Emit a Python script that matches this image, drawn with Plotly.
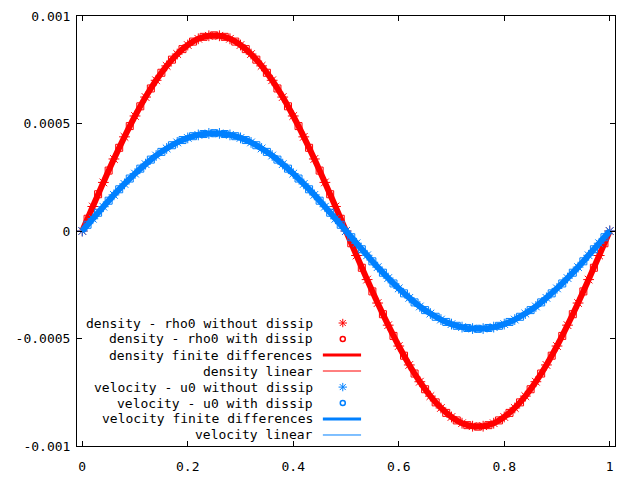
import plotly.graph_objects as go

# x positions of the samples
x_even = [i / 50 for i in range(51)]
x_odd = [(2 * i + 1) / 100 for i in range(50)]

half_rho_even = [0, 0.000114, 0.000226, 0.000335, 0.000438, 0.000535, 0.000623, 0.000701, 0.000768,
                 0.000823, 0.000865, 0.000894, 0.000908, 0.000908, 0.000894, 0.000865, 0.000823, 0.000768,
                 0.000701, 0.000623, 0.000535, 0.000438, 0.000335, 0.000226, 0.000114]
half_u_even = [0, 0.000057, 0.000113, 0.000168, 0.000219, 0.000267, 0.000311, 0.000351, 0.000384,
               0.000412, 0.000433, 0.000447, 0.000454, 0.000454, 0.000447, 0.000433, 0.000412, 0.000384,
               0.000351, 0.000311, 0.000267, 0.000219, 0.000168, 0.000113, 0.000057]
half_rho_odd = [0.000057, 0.000171, 0.000281, 0.000387, 0.000488, 0.000580, 0.000663, 0.000736, 0.000797,
                0.000846, 0.000881, 0.000903, 0.000910, 0.000903, 0.000881, 0.000846, 0.000797, 0.000736,
                0.000663, 0.000580, 0.000488, 0.000387, 0.000281, 0.000171, 0.000057]
half_u_odd = [0.000029, 0.000085, 0.000141, 0.000194, 0.000244, 0.000290, 0.000332, 0.000368, 0.000399,
              0.000423, 0.000441, 0.000451, 0.000455, 0.000451, 0.000441, 0.000423, 0.000399, 0.000368,
              0.000332, 0.000290, 0.000244, 0.000194, 0.000141, 0.000085, 0.000029]

# second half of the period mirrors the first (curves look antisymmetric about x=0.5)
rho_nodiss = half_rho_even + [0] + [-v for v in half_rho_even[1:]] + [0]
u_nodiss = half_u_even + [0] + [-v for v in half_u_even[1:]] + [0]
rho_diss = half_rho_odd + [-v for v in half_rho_odd]
u_diss = half_u_odd + [-v for v in half_u_odd]

xticks = [0, 0.2, 0.4, 0.6, 0.8, 1]
xlabels = ['0', '0.2', '0.4', '0.6', '0.8', '1']
yticks = [-0.001, -0.0005, 0, 0.0005, 0.001]
ylabels = ['-0.001', '-0.0005', '0', '0.0005', '0.001']

legend_names = ['density - rho0 without dissip', 'density - rho0 with dissip',
                'density finite differences', 'density linear',
                'velocity - u0 without dissip', 'velocity - u0 with dissip',
                'velocity finite differences', 'velocity linear']

red = '#ff0000'
blue = '#0080ff'
font = 'DejaVu Sans Mono'

fig = go.Figure()

for col, yfd, ynd, yd in [(red, rho_nodiss, rho_nodiss, rho_diss), (blue, u_nodiss, u_nodiss, u_diss)]:
    fig.add_trace(go.Scatter(x=x_even, y=yfd, mode='lines', line=dict(color=col, width=6, shape='spline'),
                             showlegend=False))
    fig.add_trace(go.Scatter(x=x_even, y=ynd, mode='markers',
                             marker=dict(symbol='asterisk-open', size=9, color=col, line=dict(color=col, width=1)),
                             showlegend=False))
    fig.add_trace(go.Scatter(x=x_odd, y=yd, mode='markers',
                             marker=dict(symbol='square-open', size=7, color=col, line=dict(color=col, width=1)),
                             showlegend=False))
    fig.add_trace(go.Scatter(x=x_even, y=yfd, mode='lines', line=dict(color=col, width=1, shape='spline'),
                             showlegend=False))

# hand-made legend in the gnuplot style: text first, key sample on the right
row_y = [0.286, 0.249, 0.2116, 0.1744, 0.137, 0.1, 0.0628, 0.0256]
kinds = ['star', 'circle', 'thick', 'thin', 'star', 'circle', 'thick', 'thin']
colors = [red] * 4 + [blue] * 4
for name, yy, kind, col in zip(legend_names, row_y, kinds, colors):
    fig.add_annotation(x=0.4424, y=yy, xref='paper', yref='paper', text=name, showarrow=False,
                       xanchor='right', yanchor='middle', font=dict(family=font, size=13, color='black'))
    if kind in ('thick', 'thin'):
        fig.add_shape(type='line', xref='paper', yref='paper', x0=0.457, x1=0.528, y0=yy, y1=yy,
                      line=dict(color=col, width=3 if kind == 'thick' else 1))
    else:
        fig.add_trace(go.Scatter(x=[0.494], y=[yy], xaxis='x2', yaxis='y2', mode='markers', showlegend=False,
                                 marker=dict(symbol='asterisk-open' if kind == 'star' else 'circle-open',
                                             size=7 if kind == 'star' else 5, color=col,
                                             line=dict(color=col, width=1 if kind == 'star' else 1.5))))

axis_style = dict(showline=True, linecolor='black', linewidth=1, mirror='allticks', ticks='inside',
                  ticklen=5, tickcolor='black', showgrid=False, zeroline=False, automargin=False,
                  tickfont=dict(family=font, size=13, color='black'))

# the page body adds an 8px offset, so the figure is 632x472 and margins are shifted
fig.update_layout(
    width=632, height=472,
    margin=dict(l=69, r=25, t=8, b=34),
    plot_bgcolor='white', paper_bgcolor='white',
    showlegend=False,
    xaxis=dict(range=[-0.01, 1.01], tickvals=xticks, ticktext=xlabels, ticklabelstandoff=8, **axis_style),
    yaxis=dict(range=[-0.001, 0.001], tickvals=yticks, ticktext=ylabels, ticklabelstandoff=3, **axis_style),
    xaxis2=dict(range=[0, 1], overlaying='x', visible=False),
    yaxis2=dict(range=[0, 1], overlaying='y', visible=False),
)

fig.write_html("out.html")
